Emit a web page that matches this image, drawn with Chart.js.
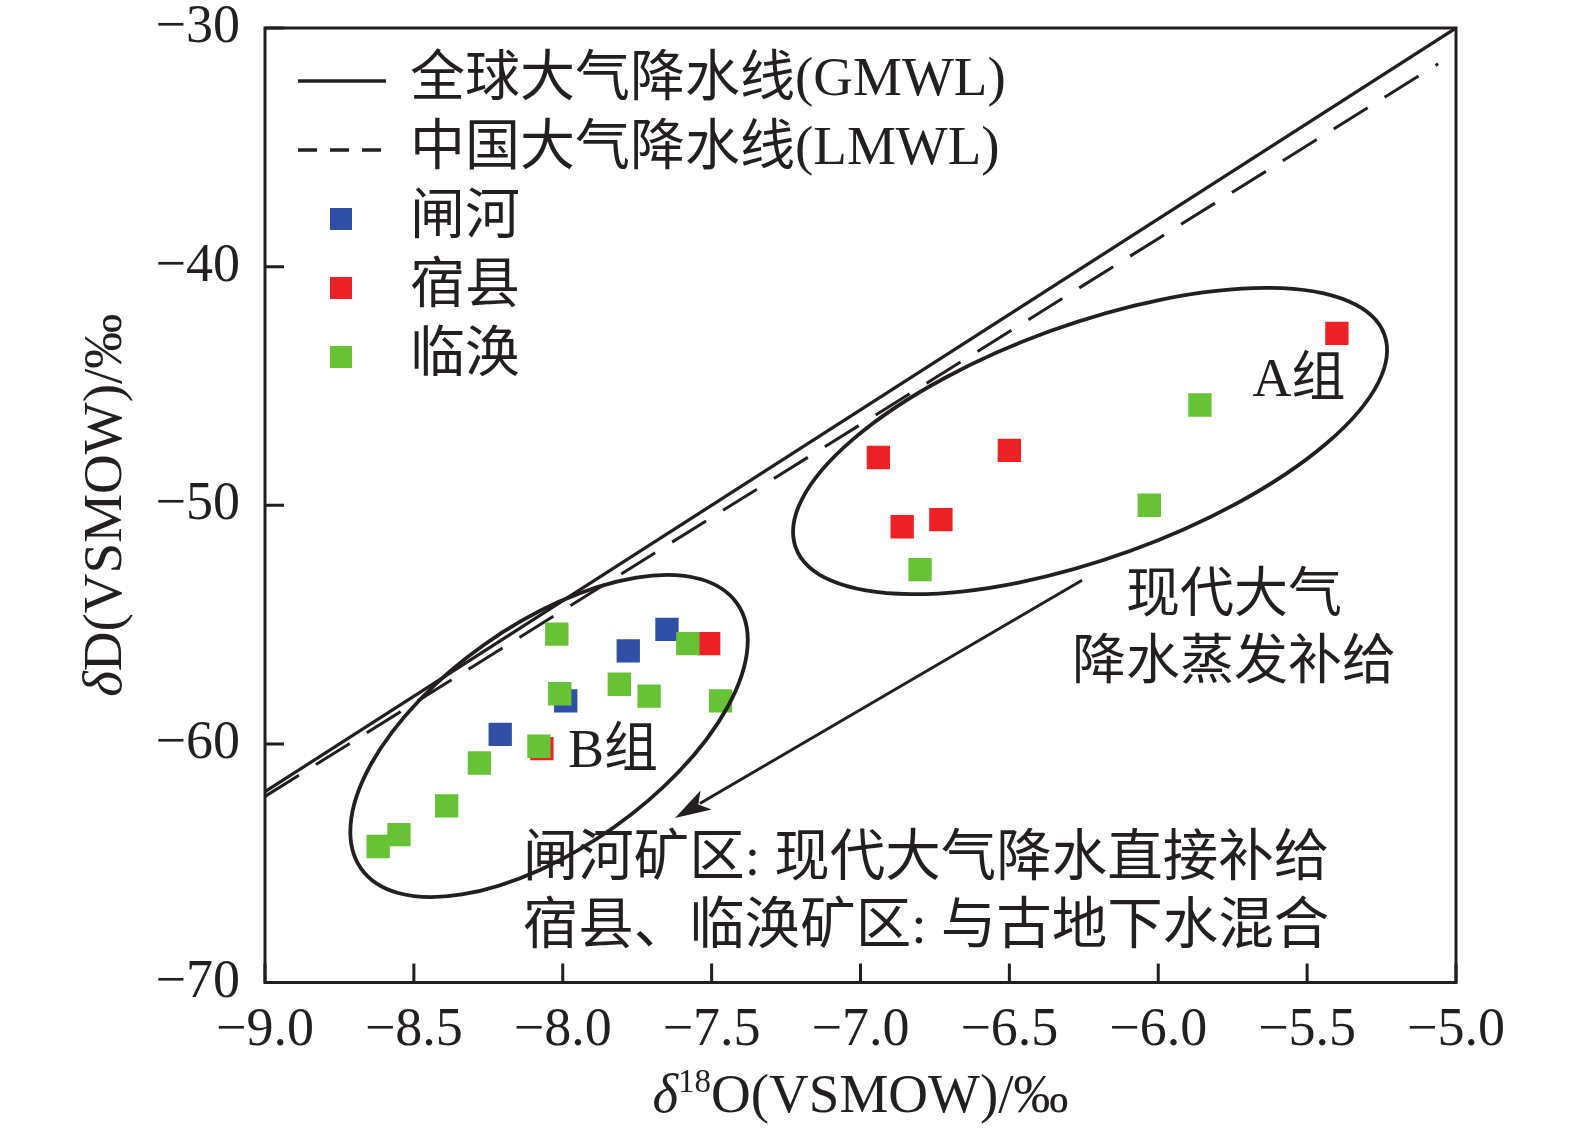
<!DOCTYPE html>
<html lang="zh">
<head>
  <meta charset="UTF-8">
  <title>δD–δ18O 关系图</title>
  <script src="https://cdn.jsdelivr.net/npm/chart.js"></script>
  <style>
    body { margin: 0; background: #fff; }
    #wrap { width: 1575px; height: 1135px; }
  </style>
</head>
<body>
<div id="wrap"><canvas id="isoChart" width="1575" height="1135"></canvas></div>
<script>
  // 闸河
  const zhaheO = [-7.65, -7.78, -7.99, -8.21];
  const zhaheD = [-55.2, -56.1, -58.2, -59.6];
  // 宿县
  const suxianO = [-5.40, -6.50, -6.94, -6.73, -6.86, -7.51, -8.07];
  const suxianD = [-42.8, -47.7, -48.0, -50.6, -50.9, -55.8, -60.2];
  // 临涣
  const linhuanO = [-5.86, -6.03, -6.80, -8.02, -7.58, -7.81, -8.01, -7.71, -7.47, -8.08, -8.28, -8.39, -8.55, -8.62];
  const linhuanD = [-45.8, -50.0, -52.7, -55.4, -55.8, -57.5, -57.9, -58.0, -58.2, -60.1, -60.8, -62.6, -63.8, -64.3];
  // meteoric water lines, end points
  const gmwlO = [-9.0, -5.0];
  const gmwlD = [-62.0, -30.0];
  const lmwlO = [-9.0, -5.06];
  const lmwlD = [-62.2, -31.5];

  const xTicks = [-9.0, -8.5, -8.0, -7.5, -7.0, -6.5, -6.0, -5.5, -5.0];
  const yTicks = [-30, -40, -50, -60, -70];

  const ink = '#231f20';
  const serif = '"Liberation Serif", "Times New Roman", "Noto Sans CJK SC", serif';
  const minus = s => String(s).replace('-', '\u2212');
  const pts = (xs, ys) => xs.map((x, i) => ({ x: x, y: ys[i] }));

  // group outlines (centre in data units, radii in px) and notes
  const groups = [
    { cx: -6.229, cy: -47.31, rx: 313, ry: 117, angle: 19.9 },
    { cx: -8.046, cy: -59.67, rx: 230, ry: 112, angle: 35.2 }
  ];
  const arrow = { from: [-6.256, -53.14], to: [-7.623, -63.11] };
  const notes = [
    { text: 'A组', x: -5.527, y: -44.84, align: 'center', size: 54 },
    { text: 'B组', x: -7.831, y: -60.39, align: 'center', size: 54 },
    { text: '现代大气', x: -5.746, y: -53.89, align: 'center', size: 54 },
    { text: '降水蒸发补给', x: -5.746, y: -56.70, align: 'center', size: 54 },
    { text: '闸河矿区: 现代大气降水直接补给', x: -8.134, y: -64.87, align: 'left', size: 55.5 },
    { text: '宿县、临涣矿区: 与古地下水混合', x: -8.134, y: -67.72, align: 'left', size: 55.5 }
  ];

  const decor = {
    id: 'decor',
    afterDatasetsDraw(chart) {
      const { ctx, chartArea: a, scales: { x, y } } = chart;
      ctx.save();
      ctx.strokeStyle = ink;
      ctx.fillStyle = ink;

      // frame + inward ticks
      ctx.lineWidth = 3;
      ctx.strokeRect(a.left, a.top, a.right - a.left, a.bottom - a.top);
      ctx.beginPath();
      xTicks.forEach(v => {
        const px = x.getPixelForValue(v);
        ctx.moveTo(px, a.bottom); ctx.lineTo(px, a.bottom - 19);
      });
      yTicks.forEach(v => {
        const py = y.getPixelForValue(v);
        ctx.moveTo(a.left, py); ctx.lineTo(a.left + 19, py);
      });
      ctx.stroke();

      // ellipses round groups A and B
      ctx.lineWidth = 3.8;
      groups.forEach(g => {
        ctx.beginPath();
        ctx.ellipse(x.getPixelForValue(g.cx), y.getPixelForValue(g.cy), g.rx, g.ry,
          -g.angle * Math.PI / 180, 0, 2 * Math.PI);
        ctx.stroke();
      });

      // arrow
      const x0 = x.getPixelForValue(arrow.from[0]), y0 = y.getPixelForValue(arrow.from[1]);
      const x1 = x.getPixelForValue(arrow.to[0]), y1 = y.getPixelForValue(arrow.to[1]);
      const ang = Math.atan2(y1 - y0, x1 - x0);
      const c = Math.cos(ang), s = Math.sin(ang);
      const headL = 36, headW = 11;
      ctx.lineWidth = 3;
      ctx.beginPath();
      ctx.moveTo(x0, y0);
      ctx.lineTo(x1 - c * headL * 0.8, y1 - s * headL * 0.8);
      ctx.stroke();
      ctx.beginPath();
      ctx.moveTo(x1, y1);
      ctx.lineTo(x1 - c * headL + s * headW, y1 - s * headL - c * headW);
      ctx.lineTo(x1 - c * headL * 0.75, y1 - s * headL * 0.75);
      ctx.lineTo(x1 - c * headL - s * headW, y1 - s * headL + c * headW);
      ctx.closePath();
      ctx.fill();

      // notes
      ctx.textBaseline = 'middle';
      notes.forEach(n => {
        ctx.font = n.size + 'px ' + serif;
        ctx.textAlign = n.align;
        ctx.fillText(n.text, x.getPixelForValue(n.x), y.getPixelForValue(n.y));
      });

      // legend inside the plot
      const rowH = 69;
      chart.data.datasets.forEach((ds, i) => {
        const ry = a.top + 53 + i * rowH;
        if (ds.showLine) {
          ctx.lineWidth = 3.3;
          ctx.setLineDash(ds.legendDash || []);
          ctx.beginPath();
          ctx.moveTo(a.left + 33, ry); ctx.lineTo(a.left + 121, ry);
          ctx.stroke();
          ctx.setLineDash([]);
        } else {
          ctx.fillStyle = ds.backgroundColor;
          ctx.fillRect(a.left + 65, ry - 11, 22, 22);
          ctx.fillStyle = ink;
        }
        ctx.textAlign = 'left';
        ctx.font = '55px ' + serif;
        ctx.fillText(ds.label, a.left + 145, ry);
      });

      ctx.restore();
    },
    afterDraw(chart) {
      const { ctx, chartArea: a } = chart;
      ctx.save();
      ctx.fillStyle = ink;
      ctx.textBaseline = 'alphabetic';
      ctx.textAlign = 'left';
      const italic = 'italic 55px ' + serif, plain = '55px ' + serif, sup = '33px ' + serif;

      // x title: δ18O(VSMOW)/‰
      const parts = [
        { t: '\u03B4', f: italic, dy: 0 },
        { t: '18', f: sup, dy: -20 },
        { t: 'O(VSMOW)/\u2030', f: plain, dy: 0 }
      ];
      let total = 0;
      parts.forEach(p => { ctx.font = p.f; p.w = ctx.measureText(p.t).width; total += p.w; });
      let cx = (a.left + a.right) / 2 - total / 2;
      parts.forEach(p => { ctx.font = p.f; ctx.fillText(p.t, cx, 1112 + p.dy); cx += p.w; });

      // y title: δD(VSMOW)/‰
      ctx.translate(121, (a.top + a.bottom) / 2);
      ctx.rotate(-Math.PI / 2);
      const yparts = [
        { t: '\u03B4', f: italic },
        { t: 'D(VSMOW)/\u2030', f: plain }
      ];
      total = 0;
      yparts.forEach(p => { ctx.font = p.f; p.w = ctx.measureText(p.t).width; total += p.w; });
      cx = -total / 2;
      yparts.forEach(p => { ctx.font = p.f; ctx.fillText(p.t, cx, 0); cx += p.w; });
      ctx.restore();
    }
  };

  new Chart(document.getElementById('isoChart').getContext('2d'), {
    type: 'scatter',
    data: {
      datasets: [
        { label: '全球大气降水线(GMWL)', data: pts(gmwlO, gmwlD), showLine: true,
          borderColor: ink, borderWidth: 3.3, pointRadius: 0, order: 5 },
        { label: '中国大气降水线(LMWL)', data: pts(lmwlO, lmwlD), showLine: true,
          borderColor: ink, borderWidth: 3, borderDash: [40, 20], legendDash: [19, 13], pointRadius: 0, order: 4 },
        { label: '闸河', data: pts(zhaheO, zhaheD), backgroundColor: '#3050a8',
          pointStyle: 'rect', pointRadius: 16.5, pointBorderWidth: 0, order: 3 },
        { label: '宿县', data: pts(suxianO, suxianD), backgroundColor: '#ec2227',
          pointStyle: 'rect', pointRadius: 16.5, pointBorderWidth: 0, order: 2 },
        { label: '临涣', data: pts(linhuanO, linhuanD), backgroundColor: '#67c236',
          pointStyle: 'rect', pointRadius: 16.5, pointBorderWidth: 0, order: 1 }
      ]
    },
    options: {
      responsive: false,
      animation: false,
      events: [],
      layout: { padding: { top: 28, right: 119, left: 0, bottom: 0 } },
      plugins: { legend: { display: false }, tooltip: { enabled: false } },
      scales: {
        x: {
          type: 'linear', min: -9, max: -5,
          afterBuildTicks: s => { s.ticks = xTicks.map(v => ({ value: v })); },
          afterFit: s => { s.height = 152.5; s.paddingLeft = 0; s.paddingRight = 0; },
          grid: { display: false, drawTicks: false },
          border: { display: false },
          ticks: { color: ink, font: { family: serif, size: 54 }, padding: 16, maxRotation: 0, autoSkip: false,
            callback: v => minus(Number(v).toFixed(1)) }
        },
        y: {
          type: 'linear', min: -70, max: -30,
          afterBuildTicks: s => { s.ticks = yTicks.map(v => ({ value: v })); },
          afterFit: s => { s.width = 265; s.paddingTop = 0; s.paddingBottom = 0; },
          grid: { display: false, drawTicks: false },
          border: { display: false },
          ticks: { color: ink, font: { family: serif, size: 54 }, padding: 25,
            callback: v => minus(v) }
        }
      }
    },
    plugins: [decor]
  });
</script>
</body>
</html>
